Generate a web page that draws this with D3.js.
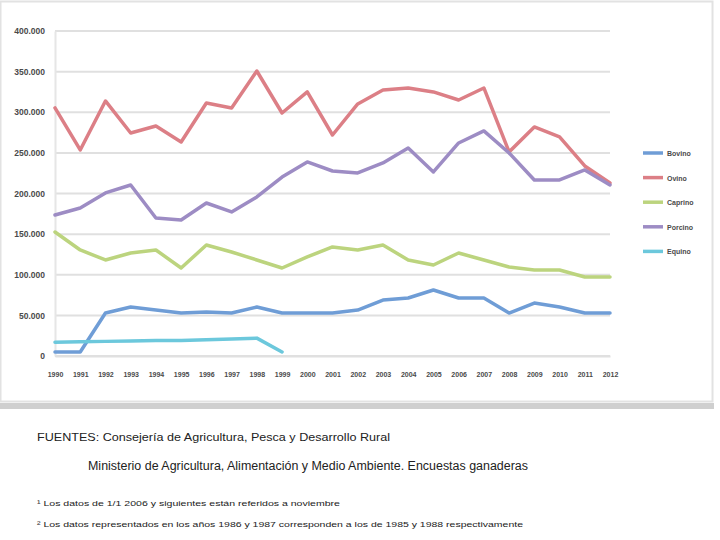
<!DOCTYPE html>
<html>
<head>
<meta charset="utf-8">
<script src="https://cdn.jsdelivr.net/npm/d3@7"></script>
<style>
  body { margin: 0; background: #fff; }
  svg { display: block; font-family: "Liberation Sans", Arial, sans-serif; }
</style>
</head>
<body>
<div id="chart"></div>
<script>
// Years on the x axis
const years = ['1990','1991','1992','1993','1994','1995','1996','1997','1998','1999','2000','2001',
               '2002','2003','2004','2005','2006','2007','2008','2009','2010','2011','2012'];

// Series values (heads)
const bovino  = [5000, 5000, 52900, 60300, 56600, 52900, 54200, 52900, 60300, 52900, 52900, 52900,
                 56600, 68900, 71400, 81200, 71400, 71400, 52900, 65200, 60300, 52900, 52900];
const ovino   = [305300, 253600, 313900, 274500, 283100, 263400, 311400, 305300, 350800, 299100, 325000, 272000,
                 310200, 327400, 329900, 325000, 315100, 329900, 251100, 281900, 269600, 233900, 213000];
const caprino = [152600, 130500, 118200, 126800, 130500, 108300, 136600, 128000, 118200, 108300, 121900, 134200,
                 130500, 136600, 118200, 112000, 126800, 118200, 109600, 105900, 105900, 97200, 97200];
const porcino = [173600, 182200, 200700, 210500, 169900, 167400, 188300, 177300, 195700, 220300, 238800, 227700,
                 225300, 237600, 256000, 226500, 262200, 277000, 249900, 216700, 216700, 229000, 210500];
const equino  = [17000, 17500, 18000, 18500, 19000, 19000, 20000, 21000, 22000, 5000, null, null,
                 null, null, null, null, null, null, null, null, null, null, null];

const seriesNames = ['Bovino', 'Ovino', 'Caprino', 'Porcino', 'Equino'];
const yTicks = [0, 50000, 100000, 150000, 200000, 250000, 300000, 350000, 400000];

const series = [
  { name: seriesNames[0], values: bovino,  color: '#6f9dd6' },
  { name: seriesNames[1], values: ovino,   color: '#dc7f86' },
  { name: seriesNames[2], values: caprino, color: '#bcd47e' },
  { name: seriesNames[3], values: porcino, color: '#9d8cc4' },
  { name: seriesNames[4], values: equino,  color: '#6cc8dc' }
];

const W = 720, H = 540;
const svg = d3.select('#chart').append('svg')
  .attr('width', W).attr('height', H);

// Chart frame
svg.append('rect')
  .attr('x', 0.5).attr('y', 1.5).attr('width', 712).attr('height', 400)
  .attr('fill', '#fff').attr('stroke', '#e2e2e2').attr('stroke-width', 2);
svg.append('line')
  .attr('x1', 0).attr('x2', 714).attr('y1', 406).attr('y2', 406)
  .attr('stroke', '#cfcfcf').attr('stroke-width', 6);

// Scales
const x = d3.scalePoint().domain(years).range([55, 610]);
const y = d3.scaleLinear().domain([0, 400000]).range([356, 31]);

const esLocale = d3.formatLocale({ decimal: ',', thousands: '.', grouping: [3], currency: ['', '€'] });
const fmt = esLocale.format(',d');

// Grid lines
svg.append('g')
  .selectAll('line')
  .data(yTicks)
  .enter()
  .append('line')
  .attr('x1', 55)
  .attr('x2', 610)
  .attr('y1', d => y(d))
  .attr('y2', d => y(d))
  .attr('stroke', '#e0e0e0')
  .attr('stroke-width', 2);

// Y axis
const yAxis = svg.append('g')
  .attr('transform', 'translate(55,0)')
  .call(d3.axisLeft(y).tickValues(yTicks).tickFormat(fmt).tickSize(0).tickPadding(10));
yAxis.select('.domain').attr('stroke', '#e6e6e6').attr('stroke-width', 2);
yAxis.selectAll('text').attr('fill', '#4a4a4a').style('font-size', '8.5px').style('font-weight', 'bold');

// X axis
const xAxis = svg.append('g')
  .attr('transform', 'translate(0,356)')
  .call(d3.axisBottom(x).tickSize(0).tickPadding(16));
xAxis.select('.domain').attr('stroke', '#e0e0e0').attr('stroke-width', 2);
xAxis.selectAll('text').attr('fill', '#4a4a4a').style('font-size', '7px').style('font-weight', 'bold');

// Lines
const line = d3.line()
  .defined(d => d.v !== null)
  .x(d => x(d.year))
  .y(d => y(d.v));

series.forEach(s => {
  svg.append('path')
    .datum(years.map((yr, i) => ({ year: yr, v: s.values[i] })))
    .attr('fill', 'none')
    .attr('stroke', s.color)
    .attr('stroke-width', 3.5)
    .attr('stroke-linejoin', 'round')
    .attr('stroke-linecap', 'round')
    .attr('d', line);
});

// Legend
const legend = svg.append('g').attr('transform', 'translate(643,153)');
series.forEach((s, i) => {
  const g = legend.append('g').attr('transform', `translate(0,${i * 24.6})`);
  g.append('line')
    .attr('x1', 0).attr('x2', 20).attr('y1', 0).attr('y2', 0)
    .attr('stroke', s.color).attr('stroke-width', 3.5);
  g.append('text')
    .attr('x', 24).attr('y', 3)
    .attr('fill', '#4a4a4a')
    .style('font-size', '7px')
    .style('font-weight', 'bold')
    .text(s.name);
});

// Sources and notes
const notes = [
  { text: 'FUENTES: Consejería de Agricultura, Pesca y Desarrollo Rural', x: 37, y: 441, size: 11, len: 353 },
  { text: 'Ministerio de Agricultura, Alimentación y Medio Ambiente. Encuestas ganaderas', x: 88, y: 470, size: 12, len: 440 },
  { text: '¹ Los datos de 1/1 2006 y siguientes están referidos a noviembre', x: 37, y: 506, size: 7.5, len: 303 },
  { text: '² Los datos representados en los años 1986 y 1987 corresponden a los de 1985 y 1988 respectivamente', x: 37, y: 527, size: 7.5, len: 486 }
];
notes.forEach(n => {
  svg.append('text')
    .attr('x', n.x).attr('y', n.y)
    .attr('fill', '#222')
    .attr('textLength', n.len)
    .attr('lengthAdjust', 'spacingAndGlyphs')
    .style('font-size', n.size + 'px')
    .text(n.text);
});
</script>
</body>
</html>
